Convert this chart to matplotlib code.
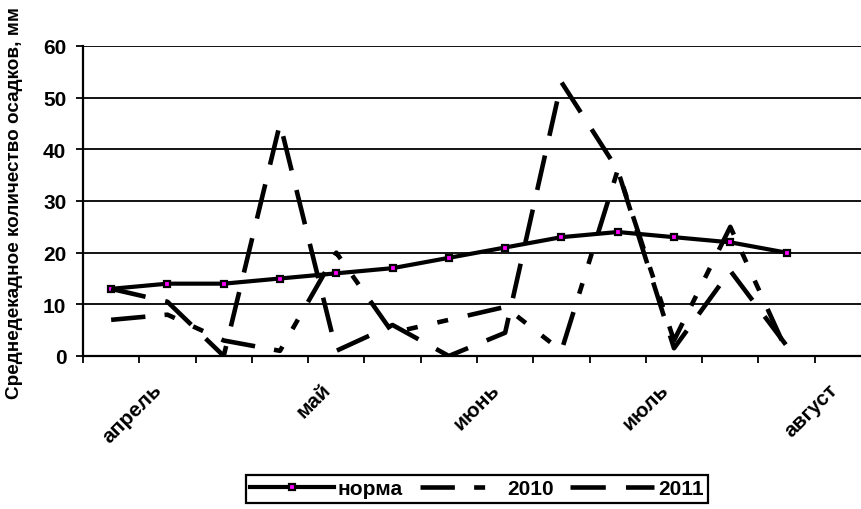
import matplotlib
matplotlib.use("Agg")
import matplotlib.pyplot as plt
import matplotlib.transforms as mtransforms

plt.rcParams['font.family'] = ['Liberation Sans', 'DejaVu Sans']
plt.rcParams['font.weight'] = 'bold'

# Decade categories (the last one is an empty slot for the August label)
categories = ["", "апрель", "", "", "май", "", "", "июнь", "", "", "июль", "", "", "август"]
month_positions = [1, 4, 7, 10, 13]
month_labels = ["апрель", "май", "июнь", "июль", "август"]

# Precipitation per decade, mm
norma = [13, 14, 14, 15, 16, 17, 19, 21, 23, 24, 23, 22, 20]
y2010 = [7, 8, 3, 1, 20, 4.5, 7, 9.5, 1, 36, 3, 25, 1]
y2011 = [13, 10.5, 0, 45, 1, 6, 0, 4.5, 53, 36, 1.5, 16.5, 2]

W, H = 862, 510
fig = plt.figure(figsize=(W / 100, H / 100), dpi=100)
ax = fig.add_axes([83 / W, 1 - 357 / H, 788 / W, 310 / H])

x = list(range(len(norma)))

ax.plot(x, norma, color='black', lw=3.0, marker='s', markersize=4.2,
        markerfacecolor='#ff00ff', markeredgecolor='black', markeredgewidth=1.6,
        label='норма', zorder=3, solid_joinstyle='round')
ax.plot(x, y2010, color='black', lw=3.3,
        linestyle=(0, (7.5, 4.2, 2.4, 4.4, 2.4, 4.4)), label='2010', zorder=4)
ax.plot(x, y2011, color='black', lw=3.3,
        linestyle=(0, (7.7, 4.4)), label='2011', zorder=5)

ax.set_xlim(-0.5, len(categories) - 0.5)
ax.set_ylim(0, 60)
ax.set_yticks(range(0, 61, 10))
ax.yaxis.grid(True, color='black', lw=1.3)
ax.set_axisbelow(True)

for side in ('top', 'right'):
    ax.spines[side].set_visible(False)
for side in ('left', 'bottom'):
    ax.spines[side].set_linewidth(1.6)
    ax.spines[side].set_zorder(6)

ax.tick_params(axis='y', length=5, width=1.3, pad=7, labelsize=15)

# category boundaries get small tick marks, month names sit on decade centres
ax.set_xticks([i - 0.5 for i in range(len(categories) + 1)], minor=True)
ax.tick_params(axis='x', which='minor', length=5, width=1.3, direction='out')
ax.set_xticks(month_positions)
ax.set_xticklabels(month_labels, rotation=45, ha='right', rotation_mode='anchor',
                   fontsize=15)
ax.tick_params(axis='x', which='major', length=0, pad=17)
offset = mtransforms.ScaledTranslation(-0.15, 0, fig.dpi_scale_trans)
for lbl in ax.get_xticklabels():
    lbl.set_transform(lbl.get_transform() + offset)

for lbl in ax.get_yticklabels():
    lbl.set_fontweight('bold')

fig.text(15 / W, 1 - 203 / H, 'Среднедекадное количество осадков, мм',
         rotation=90, ha='center', va='center', fontsize=13.6, fontweight='bold')

leg = fig.legend(loc='center', bbox_to_anchor=(477 / W, 1 - 490 / H), ncol=3,
                 fontsize=15, handlelength=4.0, handletextpad=0.2,
                 columnspacing=0.8, borderpad=0.2, numpoints=1,
                 fancybox=False, framealpha=1, edgecolor='black')
leg.get_frame().set_linewidth(1.6)
for t in leg.get_texts():
    t.set_fontweight('bold')

fig.savefig('out.png', dpi=100)
